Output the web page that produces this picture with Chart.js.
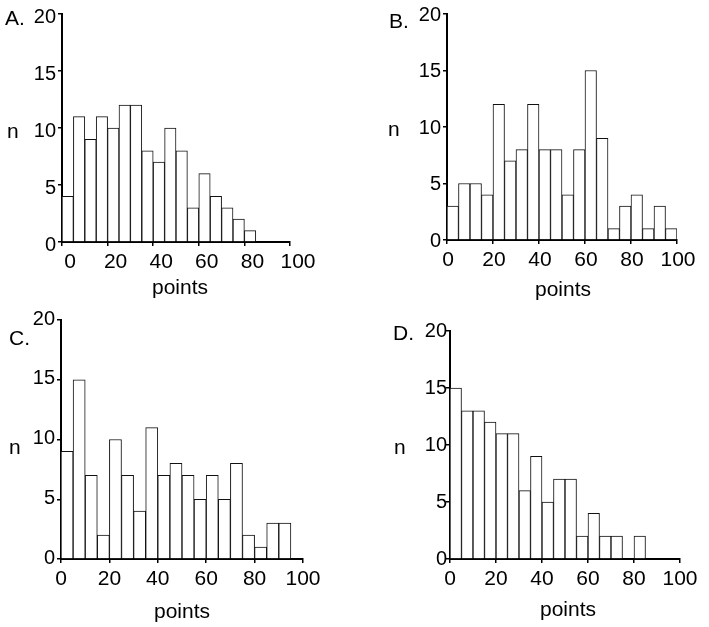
<!DOCTYPE html>
<html><head><meta charset="utf-8">
<script src="https://cdn.jsdelivr.net/npm/chart.js@4.4.1/dist/chart.umd.min.js"></script>
<style>
html,body{margin:0;padding:0;background:#fff;}
body{width:709px;height:627px;position:relative;overflow:hidden;font-family:"Liberation Sans",Arial,sans-serif;color:#000;}
canvas{position:absolute;left:0;top:0;}
.t{position:absolute;line-height:1;white-space:nowrap;}
.lab{font-size:21px;}
.pts{font-size:21px;width:120px;text-align:center;}
</style></head><body>
<canvas id="cA" width="709" height="627"></canvas>
<canvas id="cB" width="709" height="627"></canvas>
<canvas id="cC" width="709" height="627"></canvas>
<canvas id="cD" width="709" height="627"></canvas>

<div class="t lab" style="left:5px;top:7.3px;">A.</div>
<div class="t lab" style="left:389px;top:10.3px;">B.</div>
<div class="t lab" style="left:9px;top:327.3px;">C.</div>
<div class="t lab" style="left:393px;top:322.3px;">D.</div>

<div class="t lab" style="left:7px;top:120.1px;">n</div>
<div class="t lab" style="left:388px;top:118.1px;">n</div>
<div class="t lab" style="left:9px;top:436.1px;">n</div>
<div class="t lab" style="left:394px;top:436.1px;">n</div>

<div class="t pts" style="left:120px;top:276.1px;">points</div>
<div class="t pts" style="left:503px;top:278.1px;">points</div>
<div class="t pts" style="left:122px;top:600.1px;">points</div>
<div class="t pts" style="left:508px;top:598.1px;">points</div>

<script>
// ---- data ----
const binStarts = [0,5,10,15,20,25,30,35,40,45,50,55,60,65,70,75,80,85,90,95];
const binWidth = 5;
const countsA = [4,11,9,11,10,12,12,8,7,10,8,3,6,4,3,2,1];
const countsB = [3,5,5,4,12,7,8,12,8,8,4,8,15,9,1,3,4,1,3,1];
const countsC = [9,15,7,2,10,7,4,11,7,8,7,5,7,5,8,2,1,3,3];
const countsD = [15,13,13,12,11,11,6,9,5,7,7,2,4,2,2,0,2];
const xTickValues = [0,20,40,60,80,100];
const yTickValues = [0,5,10,15,20];

// ---- layout ----
const W = 709, H = 627, Y_W = 40, X_H = 40;
const panels = [
  {id:'cA', counts:countsA, left:62,  right:290, top:13.5, bottom:242, yPad:2,  yOff:3,  xOff:8},
  {id:'cB', counts:countsB, left:447, right:677, top:11,   bottom:240, yPad:2,  yOff:1,  xOff:1},
  {id:'cC', counts:countsC, left:61,  right:303, top:320,  bottom:559, yPad:2,  yOff:-1, xOff:0},
  {id:'cD', counts:countsD, left:450, right:680, top:331,  bottom:559, yPad:-1, yOff:0,  xOff:0}
];

Chart.defaults.font.family = '"Liberation Sans", Arial, sans-serif';
Chart.defaults.color = '#000';

panels.forEach(p => {
  new Chart(document.getElementById(p.id), {
    type: 'bar',
    data: {
      datasets: [{
        data: p.counts.map((c, i) => ({x: binStarts[i] + binWidth / 2, y: c})),
        backgroundColor: '#ffffff',
        borderColor: '#111111',
        borderWidth: 1,
        barPercentage: 1,
        categoryPercentage: 1,
        borderSkipped: 'bottom'
      }]
    },
    options: {
      responsive: false,
      animation: false,
      devicePixelRatio: 1,
      layout: {padding: {left: p.left - Y_W, right: W - p.right, top: p.top, bottom: H - p.bottom - X_H}},
      plugins: {legend: {display: false}, tooltip: {enabled: false}},
      scales: {
        x: {
          type: 'linear', min: 0, max: 100, offset: false,
          grid: {offset: false, drawOnChartArea: false, drawTicks: true, tickLength: 4, color: '#000', lineWidth: 1.5},
          border: {color: '#000', width: 2},
          ticks: {color: '#000', font: {size: 21}, padding: 4, labelOffset: p.xOff, maxRotation: 0, autoSkip: false},
          afterBuildTicks: s => { s.ticks = xTickValues.map(v => ({value: v})); },
          afterFit: s => { s.height = X_H; }
        },
        y: {
          type: 'linear', min: 0, max: 20,
          grid: {drawOnChartArea: false, drawTicks: true, tickLength: 4, color: '#000', lineWidth: 1.5},
          border: {color: '#000', width: 2},
          ticks: {color: '#000', font: {size: 20}, padding: p.yPad, labelOffset: p.yOff, autoSkip: false},
          afterBuildTicks: s => { s.ticks = yTickValues.map(v => ({value: v})); },
          afterFit: s => { s.width = Y_W; }
        }
      }
    }
  });
});
</script>
</body></html>
